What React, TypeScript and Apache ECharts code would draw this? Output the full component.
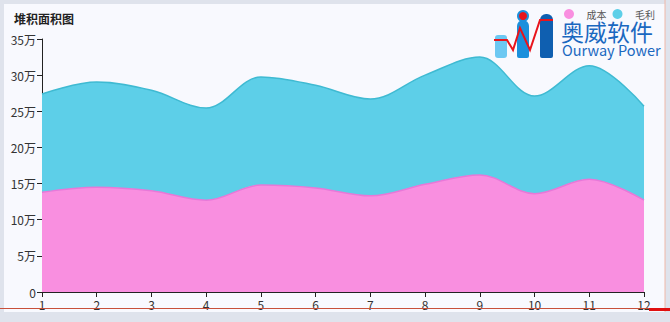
import React, { useEffect, useRef } from "react";
import * as echarts from "echarts";

const categories = ["1", "2", "3", "4", "5", "6", "7", "8", "9", "10", "11", "12"];
const costValues = [138000, 145000, 140000, 127000, 148000, 144000, 133000, 149000, 162000, 136000, 156000, 127000];
const profitValues = [136000, 145500, 139000, 127500, 149500, 142000, 134000, 151000, 163000, 135000, 157000, 130000];
const seriesNames = ["成本", "毛利"];
const titleText = "堆积面积图";

export default function App() {
  const ref = useRef<HTMLDivElement>(null);
  useEffect(() => {
    if (!ref.current) return;
    const chart = echarts.init(ref.current, null, { renderer: "svg" });
    const font = "'Microsoft YaHei', 'Noto Sans CJK SC', sans-serif";
    chart.setOption({
      animation: false,
      backgroundColor: "#dfe3ec",
      textStyle: { fontFamily: font },
      graphic: [
        { type: "rect", z: -10, shape: { x: 4, y: 4, width: 661, height: 308 }, style: { fill: "#f8f9fe" } },
        { type: "line", z: 10, shape: { x1: 665, y1: 0, x2: 665, y2: 312 }, style: { stroke: "#f0b8a8", lineWidth: 1 } },
        { type: "line", z: 10, shape: { x1: 0, y1: 308.5, x2: 650, y2: 308.5 }, style: { stroke: "#c8503a", lineWidth: 1 } },
        { type: "rect", z: 10, shape: { x: 649, y: 308, width: 21, height: 3 }, style: { fill: "#e01010" } },
        // logo
        { type: "rect", z: 20, shape: { x: 495, y: 35, width: 12, height: 23, r: 3 }, style: { fill: "#6cc8f2" } },
        { type: "rect", z: 20, shape: { x: 517, y: 20, width: 12, height: 38, r: [6, 6, 2, 2] }, style: { fill: "#1b90dc" } },
        { type: "rect", z: 20, shape: { x: 540, y: 14, width: 13, height: 44, r: [6, 6, 2, 2] }, style: { fill: "#0f5fb0" } },
        { type: "circle", z: 21, shape: { cx: 523, cy: 16, r: 5 }, style: { fill: "#e8141c", stroke: "#1b90dc", lineWidth: 2 } },
        { type: "polyline", z: 22, shape: { points: [[494, 40], [507, 40], [513, 50], [520, 28], [530, 50], [540, 20], [553, 20]] }, style: { stroke: "#e8141c", lineWidth: 2, fill: "none" } },
        { type: "text", z: 20, x: 561, y: 19, style: { text: "奥威软件", fill: "#1a68c0", font: `23px ${font}` } },
        { type: "text", z: 20, x: 562, y: 42, style: { text: "Ourway Power", fill: "#1a68c0", font: `14.5px ${font}` } },
      ],
      title: {
        text: titleText,
        left: 9,
        top: 7,
        textStyle: { fontSize: 12, fontWeight: "bold", color: "#222" },
      },
      legend: {
        data: seriesNames,
        right: 10,
        top: 4,
        icon: "circle",
        itemWidth: 25,
        itemHeight: 10,
        itemGap: 6,
        textStyle: { fontSize: 10, color: "#555" },
      },
      color: ["#f98fe0", "#5dcfe8"],
      grid: { left: 42, right: 26, top: 39, bottom: 30, containLabel: false },
      xAxis: {
        type: "category",
        data: categories,
        boundaryGap: false,
        axisLine: { lineStyle: { color: "#222" } },
        axisTick: { show: true, alignWithLabel: true, lineStyle: { color: "#222" } },
        axisLabel: { color: "#333", fontSize: 12, margin: 6 },
        splitLine: { show: false },
      },
      yAxis: {
        type: "value",
        min: 0,
        max: 350000,
        interval: 50000,
        axisLine: { show: true, lineStyle: { color: "#222" } },
        axisTick: { show: true, lineStyle: { color: "#222" } },
        axisLabel: {
          color: "#333",
          fontSize: 12,
          margin: 6,
          formatter: (v: number) => (v === 0 ? "0" : v / 10000 + "万"),
        },
        splitLine: { show: false },
      },
      series: [
        {
          name: seriesNames[0],
          type: "line",
          stack: "total",
          smooth: 0.35,
          symbol: "none",
          data: costValues,
          lineStyle: { color: "#e878d8", width: 1.5 },
          areaStyle: { color: "#f98fe0", opacity: 1 },
        },
        {
          name: seriesNames[1],
          type: "line",
          stack: "total",
          smooth: 0.35,
          symbol: "none",
          data: profitValues,
          lineStyle: { color: "#3fbad2", width: 1.5 },
          areaStyle: { color: "#5dcfe8", opacity: 1 },
        },
      ],
    });
    return () => chart.dispose();
  }, []);
  return <div ref={ref} style={{ position: "fixed", left: 0, top: 0, width: 670, height: 322 }} />;
}
